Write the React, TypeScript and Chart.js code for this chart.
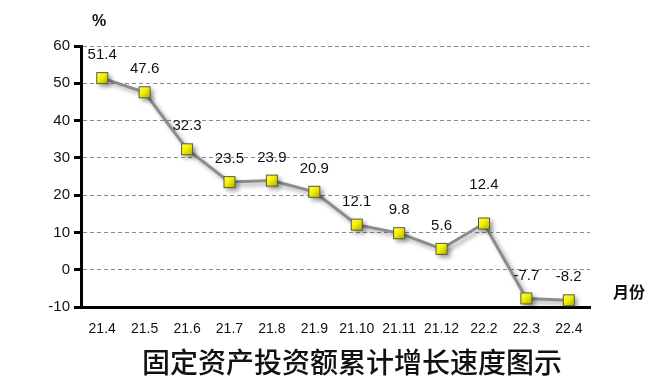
import React, { useEffect, useRef } from "react";
import { Chart, registerables } from "chart.js";

Chart.register(...registerables);

const categories = ["21.4", "21.5", "21.6", "21.7", "21.8", "21.9", "21.10", "21.11", "21.12", "22.2", "22.3", "22.4"];
const growth = [51.4, 47.6, 32.3, 23.5, 23.9, 20.9, 12.1, 9.8, 5.6, 12.4, -7.7, -8.2];
const yTicks = [-10, 0, 10, 20, 30, 40, 50, 60];
const titleText = "固定资产投资额累计增长速度图示";
const unitText = "%";
const xAxisName = "月份";

function makeMarker(): HTMLCanvasElement {
  const s = 14;
  const c = document.createElement("canvas");
  c.width = s;
  c.height = s;
  const g = c.getContext("2d")!;
  const grad = g.createLinearGradient(1, 1, s - 1, s - 1);
  grad.addColorStop(0, "#ffff66");
  grad.addColorStop(0.45, "#f2f200");
  grad.addColorStop(1, "#a8a800");
  g.fillStyle = grad;
  g.fillRect(1, 1, s - 2, s - 2);
  g.strokeStyle = "#5a5a3a";
  g.lineWidth = 1;
  g.strokeRect(1.5, 1.5, s - 3, s - 3);
  return c;
}

export default function App() {
  const ref = useRef<HTMLCanvasElement>(null);
  useEffect(() => {
    document.body.style.margin = "0";
    const marker = makeMarker();
    const shadowPlugin = {
      id: "shadow",
      beforeDatasetsDraw(chart: any) {
        const ctx = chart.ctx;
        ctx.save();
        ctx.shadowColor = "rgba(0,0,0,0.35)";
        ctx.shadowBlur = 4;
        ctx.shadowOffsetX = 3;
        ctx.shadowOffsetY = 3;
      },
      afterDatasetsDraw(chart: any) {
        chart.ctx.restore();
      },
    };
    const textPlugin = {
      id: "texts",
      afterDraw(chart: any) {
        const ctx = chart.ctx;
        const meta = chart.getDatasetMeta(0);
        ctx.save();
        ctx.fillStyle = "#111";
        ctx.font = "15px 'Liberation Sans', Arial, sans-serif";
        ctx.textAlign = "center";
        ctx.textBaseline = "middle";
        meta.data.forEach((pt: any, i: number) => {
          const extra = i === 9 ? 16 : 0;
          ctx.fillText(String(growth[i]), pt.x, pt.y - 23 - extra);
        });
        ctx.font = "bold 16px 'Liberation Sans', Arial, sans-serif";
        ctx.fillText(unitText, 99, 22);
        ctx.font = "bold 16px 'Noto Sans CJK SC', sans-serif";
        ctx.textAlign = "left";
        ctx.fillText(xAxisName, 613, 292);
        ctx.font = "500 28px 'Noto Sans CJK SC', sans-serif";
        ctx.textAlign = "center";
        ctx.fillText(titleText, 352, 362);
        ctx.restore();
      },
    };
    const chart = new Chart(ref.current!, {
      type: "line",
      data: {
        labels: categories,
        datasets: [
          {
            data: growth,
            borderColor: "#8c8c8c",
            borderWidth: 3,
            pointStyle: marker as any,
            pointRadius: 7,
            pointHoverRadius: 7,
            tension: 0,
          },
        ],
      },
      options: {
        animation: false,
        responsive: false,
        events: [],
        layout: { padding: { left: 0, right: 76, top: 46, bottom: 0 } },
        plugins: { legend: { display: false }, tooltip: { enabled: false }, title: { display: false } },
        scales: {
          x: {
            offset: true,
            grid: { display: false, drawTicks: false },
            border: { display: true, color: "#000", width: 3 },
            ticks: { color: "#111", font: { size: 14, family: "'Liberation Sans', Arial, sans-serif" }, padding: 14, maxRotation: 0, autoSkip: false },
            afterFit(scale: any) {
              scale.height = 84;
            },
          },
          y: {
            min: -10,
            max: 60,
            afterBuildTicks(scale: any) {
              scale.ticks = yTicks.map((v) => ({ value: v }));
            },
            grid: {
              color: (c: any) => (c.tick && c.tick.value === -10 ? "rgba(0,0,0,0)" : "#8a8a8a"),
              lineWidth: 1,
              drawTicks: true,
              tickLength: 7,
              tickColor: "#000",
              tickWidth: 3,
            },
            border: { display: true, color: "#000", width: 3, dash: [4, 3] } as any,
            ticks: { color: "#111", font: { size: 15, family: "'Liberation Sans', Arial, sans-serif" }, padding: 4 },
            afterFit(scale: any) {
              scale.width = 81;
            },
          },
        },
      },
      plugins: [shadowPlugin, textPlugin],
    });
    return () => chart.destroy();
  }, []);
  return <canvas ref={ref} width={666} height={391} style={{ display: "block" }} />;
}
